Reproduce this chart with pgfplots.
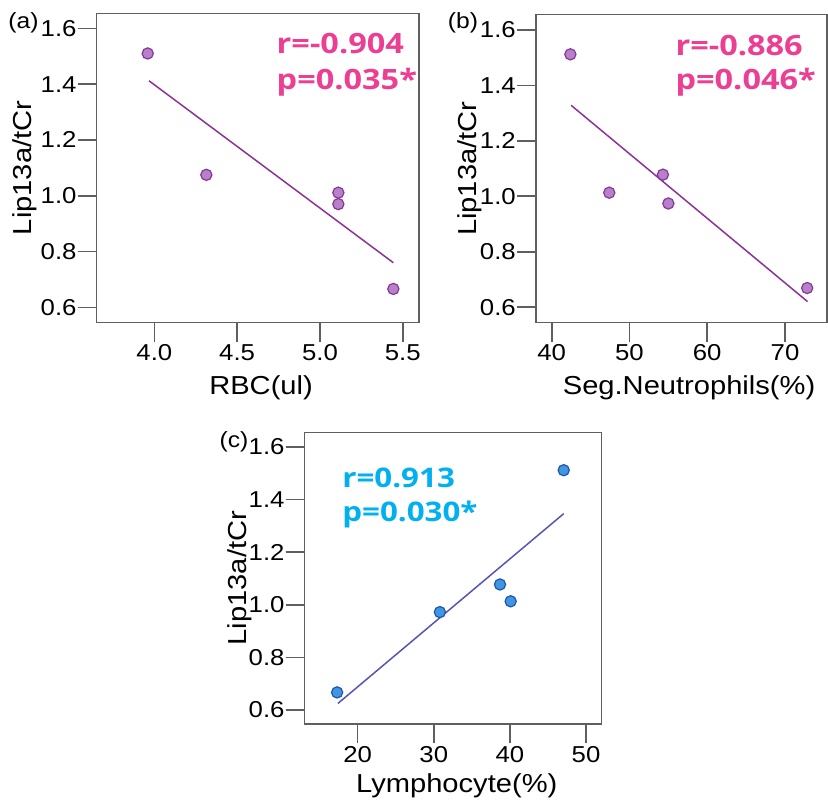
\documentclass[border=0pt]{standalone}
\usepackage{fontspec}
\setmainfont{Liberation Sans}[FakeStretch=1.12]
\newfontfamily\annfont{Open Sans}[FakeStretch=1.16]
\usepackage{pgfplots}
\pgfplotsset{compat=1.18}
\definecolor{mfillA}{RGB}{183,128,200}
\definecolor{mdrawA}{RGB}{135,55,155}
\definecolor{lineA}{RGB}{140,50,150}
\definecolor{mfillC}{RGB}{65,150,225}
\definecolor{mdrawC}{RGB}{30,85,175}
\definecolor{lineC}{RGB}{85,85,185}
\definecolor{pinkT}{RGB}{236,62,146}
\definecolor{cyanT}{RGB}{0,176,240}
\definecolor{boxgray}{RGB}{95,95,95}
\newcommand{\xtk}{\textcolor{boxgray}{\rule{1.6pt}{19pt}}}
\newcommand{\ytk}{\textcolor{boxgray}{\rule{19pt}{1.6pt}}}
\pgfplotsset{
  panel/.style={
    scale only axis,
    anchor=south west,
    axis line style={boxgray, line width=1.4pt},
    every tick/.append style={draw=boxgray, line width=1.4pt},
    tick align=outside,
    major tick length=19pt,
    xtick pos=left, ytick pos=left,
    /pgf/number format/assume math mode=true,
    ticklabel style={font=\fontsize{23}{27}\selectfont},
    yticklabel style={inner sep=1pt, /pgf/number format/fixed, /pgf/number format/fixed zerofill, /pgf/number format/precision=1},
    xticklabel style={inner sep=3pt},
    ytick={0.6,0.8,1.0,1.2,1.4,1.6},
    ylabel={Lip13a/tCr},
    clip=false,
  },
  tk/.style={boxgray, line width=1.5pt, forget plot},
  ptsA/.style={only marks, mark=*, mark size=5.6pt, mark options={fill=mfillA, draw=mdrawA, line width=1.2pt}},
  ptsC/.style={only marks, mark=*, mark size=5.6pt, mark options={fill=mfillC, draw=mdrawC, line width=1.2pt}},
}
\begin{document}
\begin{tikzpicture}
\path[use as bounding box] (0,0) rectangle (828pt,800pt);
% (a)
\begin{axis}[panel,
  at={(96.7pt,477.3pt)}, width=322.3pt, height=309.4pt,
  xmin=3.652, xmax=5.598, ymin=0.545, ymax=1.654,
  xtick={4.0,4.5,5.0,5.5},
  xticklabel style={/pgf/number format/fixed, /pgf/number format/fixed zerofill, /pgf/number format/precision=1},
  xlabel={RBC(ul)},
  every axis x label/.style={at={(axis description cs:0.51,-0.211)}, anchor=center, font=\fontsize{26}{30}\selectfont},
  every axis y label/.style={at={(axis description cs:-0.222,0.5)}, rotate=90, anchor=center, font=\fontsize{26}{30}\selectfont},
]
\pgfplotsinvokeforeach{4.0,4.5,5.0,5.5}{\addplot[tk] coordinates {(#1,0.545) (#1,0.4769)};}
\pgfplotsinvokeforeach{0.6,0.8,1.0,1.2,1.4,1.6}{\addplot[tk] coordinates {(3.652,#1) (3.5373,#1)};}
\pgfplotsinvokeforeach{4.0,4.5,5.0,5.5}{\node[anchor=north, inner sep=0pt] at (axis cs:#1,0.545) {\xtk};}
\pgfplotsinvokeforeach{0.6,0.8,1.0,1.2,1.4,1.6}{\node[anchor=east, inner sep=0pt] at (axis cs:3.652,#1) {\ytk};}
\addplot[lineA, line width=1.5pt] coordinates {(3.968,1.412) (5.443,0.760)};
\addplot[ptsA] coordinates {(3.96,1.51) (4.314,1.075) (5.111,1.011) (5.111,0.970) (5.443,0.666)};
\node[anchor=center, font=\fontsize{22}{26}\selectfont] at (axis description cs:-0.227,0.969) {(a)};
\node[anchor=base west, inner sep=0pt, text=pinkT, font=\annfont\bfseries\fontsize{28}{32}\selectfont] at (axis description cs:0.558,0.8707) {r=-0.904};
\node[anchor=base west, inner sep=0pt, text=pinkT, font=\annfont\bfseries\fontsize{28}{32}\selectfont] at (axis description cs:0.558,0.7521) {p=0.035*};
\end{axis}
% (b)
\begin{axis}[panel,
  at={(536pt,477.3pt)}, width=291pt, height=308pt,
  xmin=37.98, xmax=75.4, ymin=0.544, ymax=1.655,
  xtick={40,50,60,70},
  xlabel={Seg.Neutrophils(\%)},
  every axis x label/.style={at={(axis description cs:0.526,-0.210)}, anchor=center, font=\fontsize{26}{30}\selectfont},
  every axis y label/.style={at={(axis description cs:-0.227,0.5)}, rotate=90, anchor=center, font=\fontsize{26}{30}\selectfont},
]
\pgfplotsinvokeforeach{40,50,60,70}{\addplot[tk] coordinates {(#1,0.544) (#1,0.4755)};}
\pgfplotsinvokeforeach{0.6,0.8,1.0,1.2,1.4,1.6}{\addplot[tk] coordinates {(37.98,#1) (35.538,#1)};}
\pgfplotsinvokeforeach{40,50,60,70}{\node[anchor=north, inner sep=0pt] at (axis cs:#1,0.544) {\xtk};}
\pgfplotsinvokeforeach{0.6,0.8,1.0,1.2,1.4,1.6}{\node[anchor=east, inner sep=0pt] at (axis cs:37.98,#1) {\ytk};}
\addplot[lineA, line width=1.5pt] coordinates {(42.5,1.328) (72.9,0.620)};
\addplot[ptsA] coordinates {(42.4,1.512) (47.4,1.013) (54.3,1.078) (55.0,0.974) (72.85,0.669)};
\node[anchor=center, font=\fontsize{22}{26}\selectfont] at (axis description cs:-0.251,0.973) {(b)};
\node[anchor=base west, inner sep=0pt, text=pinkT, font=\annfont\bfseries\fontsize{28}{32}\selectfont] at (axis description cs:0.479,0.869) {r=-0.886};
\node[anchor=base west, inner sep=0pt, text=pinkT, font=\annfont\bfseries\fontsize{28}{32}\selectfont] at (axis description cs:0.479,0.7555) {p=0.046*};
\end{axis}
% (c)
\begin{axis}[panel,
  at={(304.7pt,76pt)}, width=297pt, height=291.7pt,
  xmin=13.04, xmax=52.06, ymin=0.547, ymax=1.655,
  xtick={20,30,40,50},
  xlabel={Lymphocyte(\%)},
  every axis x label/.style={at={(axis description cs:0.512,-0.2126)}, anchor=center, font=\fontsize{26}{30}\selectfont},
  every axis y label/.style={at={(axis description cs:-0.218,0.5)}, rotate=90, anchor=center, font=\fontsize{26}{30}\selectfont},
]
\pgfplotsinvokeforeach{20,30,40,50}{\addplot[tk] coordinates {(#1,0.547) (#1,0.4748)};}
\pgfplotsinvokeforeach{0.6,0.8,1.0,1.2,1.4,1.6}{\addplot[tk] coordinates {(13.04,#1) (10.543,#1)};}
\pgfplotsinvokeforeach{20,30,40,50}{\node[anchor=north, inner sep=0pt] at (axis cs:#1,0.547) {\xtk};}
\pgfplotsinvokeforeach{0.6,0.8,1.0,1.2,1.4,1.6}{\node[anchor=east, inner sep=0pt] at (axis cs:13.04,#1) {\ytk};}
\addplot[lineC, line width=1.5pt] coordinates {(17.4,0.625) (47.07,1.346)};
\addplot[ptsC] coordinates {(17.3,0.667) (30.8,0.972) (38.7,1.077) (40.1,1.013) (47.07,1.511)};
\node[anchor=center, font=\fontsize{22}{26}\selectfont] at (axis description cs:-0.238,0.967) {(c)};
\node[anchor=base west, inner sep=0pt, text=cyanT, font=\annfont\bfseries\fontsize{27}{31}\selectfont] at (axis description cs:0.126,0.8115) {r=0.913};
\node[anchor=base west, inner sep=0pt, text=cyanT, font=\annfont\bfseries\fontsize{27}{31}\selectfont] at (axis description cs:0.126,0.6935) {p=0.030*};
\end{axis}
\end{tikzpicture}
\end{document}
